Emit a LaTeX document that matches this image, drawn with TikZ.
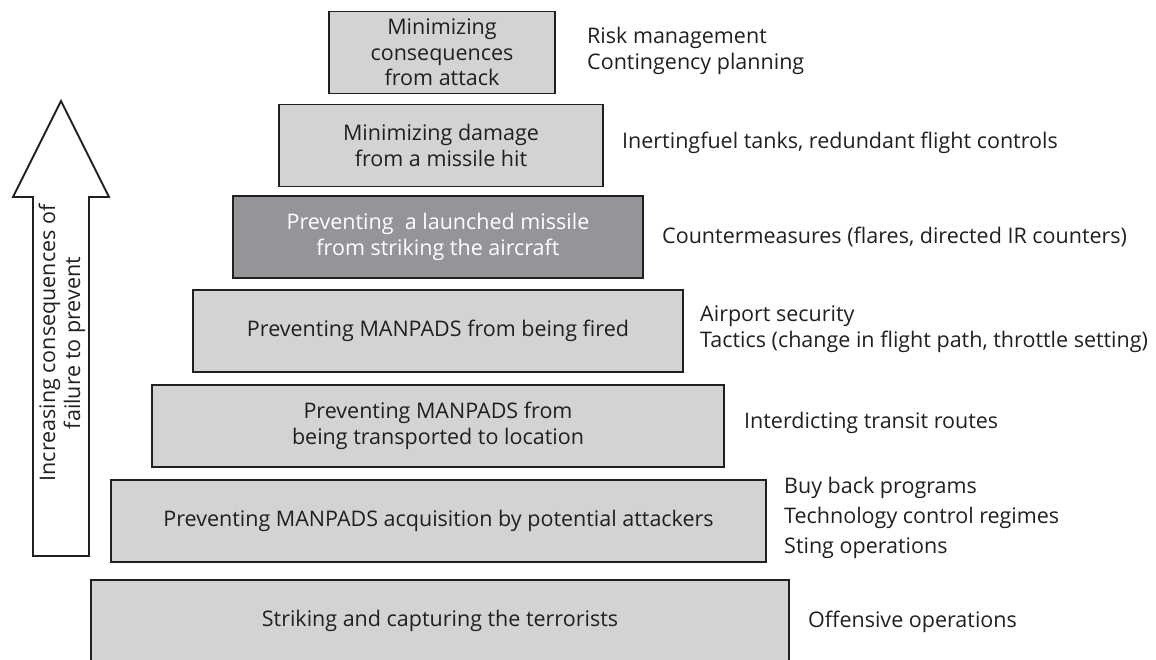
\documentclass[tikz,border=0pt]{standalone}
\usepackage{fontspec}
\setmainfont{Open Sans}
\definecolor{levfill}{HTML}{D2D3D5}
\definecolor{levdark}{HTML}{939598}
\definecolor{ink}{HTML}{231F20}
\tikzset{
  lev/.style={draw=ink, line width=1.8pt, fill=levfill, text=ink, align=center,
    inner sep=0pt, minimum height=\hLev, font=\fontsize{21.5}{25.5}\selectfont},
  means/.style={anchor=west, align=left, inner sep=0pt, text=ink,
    font=\fontsize{21.5}{26}\selectfont}
}
\newcommand{\hLev}{82pt}
\begin{document}
\begin{tikzpicture}[x=1pt,y=-1pt]
    %pyramide
\useasboundingbox (0,0) rectangle (1156,660);
\clip (0,0) rectangle (1156,660);

\draw[draw=ink, line width=1.8pt, fill=white] (33,556) -- (33,197) -- (13,197) -- (61,101)
  -- (109,197) -- (89,197) -- (89,556) -- cycle;
\node[rotate=90, align=center, text=ink, font=\fontsize{21.5}{25}\selectfont] (incr) at (62,343)
  {Increasing consequences of\\failure to prevent};

\node[lev, minimum width=226pt] (consq) at (442,52.5) {Minimizing\\consequences\\from attack};
\node[lev, minimum width=324pt] (damage) at (441,145.5) {Minimizing damage\\from a missile hit};
\node[lev, minimum width=410pt, fill=levdark, text=white] (launch) at (438,237)
  {Preventing\ \ a launched missile\\from striking the aircraft};
\node[lev, minimum width=490pt] (fired) at (438,331) {Preventing MANPADS from being fired};
\node[lev, minimum width=572pt] (transp) at (438,426) {Preventing MANPADS from\\being transported to location};
\node[lev, minimum width=655pt] (acqu) at (438.5,521) {Preventing MANPADS acquisition by potential attackers};
\node[lev, minimum width=698pt] (strike) at (440,621) {Striking and capturing the terrorists};

\node[means] (risk) at (587,50.5) {Risk management\\Contingency planning};
\node[means] (inert) at (622,143) {Inertingfuel tanks, redundant flight controls};
\node[means] (counter) at (662,237) {Countermeasures (flares, directed IR counters)};
\node[means] (airport) at (700,329.5) {Airport security\\Tactics (change in flight path, throttle setting)};
\node[means] (interd) at (744,423) {Interdicting transit routes};
\node[means, font=\fontsize{21.5}{30}\selectfont] (buy) at (784,518) {Buy back programs\\Technology control regimes\\Sting operations};
\node[means] (offens) at (808,622) {Offensive operations};
\end{tikzpicture}
\end{document}
